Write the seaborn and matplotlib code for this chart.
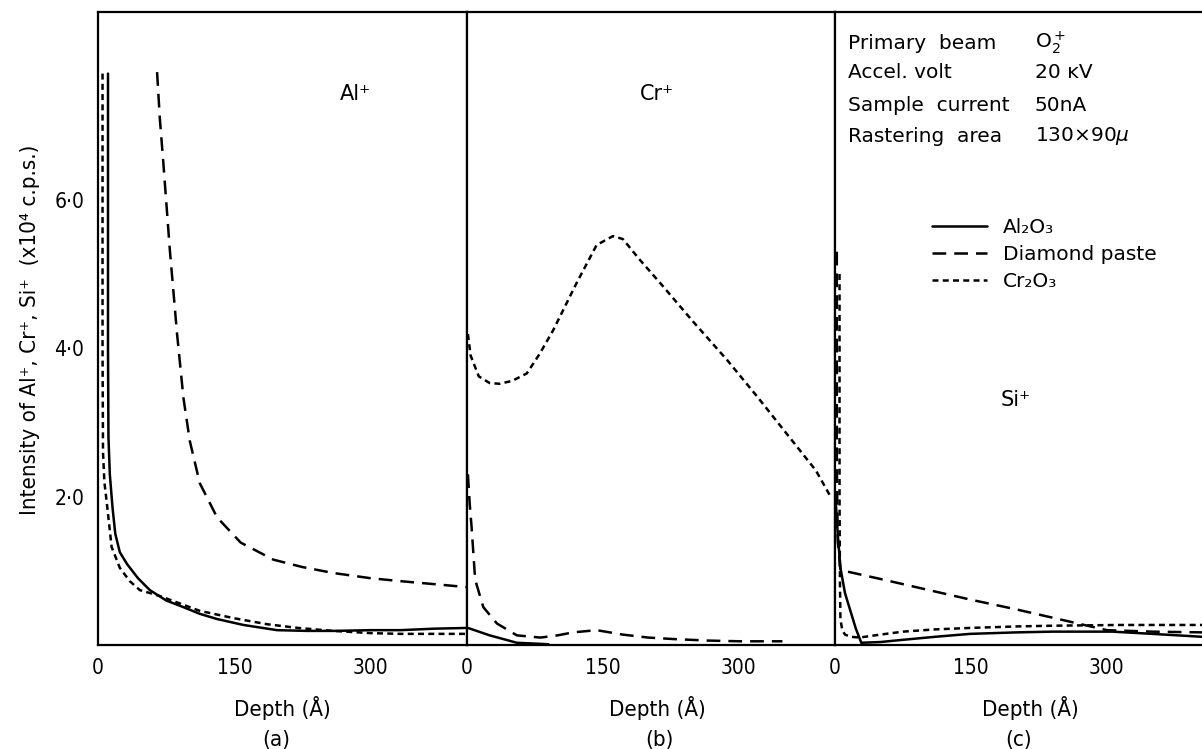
import numpy as np
import pandas as pd
import matplotlib
matplotlib.use("Agg")
import matplotlib.pyplot as plt
import seaborn as sns

# ── data (depth in Å, intensity x10^4 cps) ──

MATERIALS = ["Al₂O₃", "Diamond paste", "Cr₂O₃"]
PANEL_IONS = ["Al⁺", "Cr⁺", "Si⁺"]
PANEL_TAGS = ["(a)", "(b)", "(c)"]
X_TICKS = [0, 150, 300]
Y_TICKS = [2, 4, 6]
Y_TICK_LABELS = ["2·0", "4·0", "6·0"]

# (a) Al+
A_AL2O3_X = [11, 11, 11.5, 13, 16, 19, 24, 32, 44, 57, 75, 94, 112, 131, 160, 197, 230, 260, 300, 333, 370, 406]
A_AL2O3_Y = [7.7, 4.0, 2.8, 2.3, 1.85, 1.5, 1.25, 1.09, 0.9, 0.74, 0.6, 0.51, 0.42, 0.35, 0.27, 0.2, 0.19, 0.19, 0.2, 0.2, 0.22, 0.23]
A_DIAM_X = [65, 68, 72, 79, 87, 94, 101, 112, 131, 157, 193, 225, 259, 300, 333, 370, 406]
A_DIAM_Y = [7.72, 7.1, 6.48, 5.33, 4.19, 3.33, 2.75, 2.18, 1.72, 1.38, 1.15, 1.05, 0.97, 0.9, 0.86, 0.82, 0.78]
A_CR2O3_X = [5, 5, 5.5, 7, 10, 15, 24, 35, 46, 68, 90, 112, 150, 186, 220, 259, 300, 333, 370, 406]
A_CR2O3_Y = [7.7, 4.0, 2.6, 2.2, 1.88, 1.32, 1.04, 0.86, 0.74, 0.66, 0.56, 0.46, 0.36, 0.28, 0.23, 0.19, 0.16, 0.15, 0.15, 0.15]

# (b) Cr+
B_AL2O3_X = [1, 25, 55, 90]
B_AL2O3_Y = [0.23, 0.13, 0.03, 0.01]
B_DIAM_X = [1, 3, 5, 9, 18, 33, 55, 81, 100, 117, 143, 172, 200, 228, 265, 301, 348]
B_DIAM_Y = [2.3, 1.9, 1.6, 0.88, 0.51, 0.29, 0.13, 0.1, 0.13, 0.17, 0.2, 0.14, 0.1, 0.08, 0.06, 0.05, 0.05]
B_CR2O3_X = [1, 4, 13, 25, 36, 50, 66, 80, 95, 121, 143, 161, 172, 190, 213, 250, 287, 320, 359, 385, 402]
B_CR2O3_Y = [4.19, 3.9, 3.62, 3.53, 3.52, 3.56, 3.66, 3.92, 4.24, 4.88, 5.39, 5.51, 5.47, 5.2, 4.88, 4.35, 3.84, 3.35, 2.75, 2.35, 1.98]

# (c) Si+
C_AL2O3_X = [0.5, 3, 6, 11, 17, 23, 29, 50, 75, 110, 149, 200, 240, 306, 350, 406]
C_AL2O3_Y = [2.0, 1.5, 1.04, 0.7, 0.46, 0.22, 0.03, 0.04, 0.07, 0.11, 0.15, 0.17, 0.18, 0.18, 0.15, 0.11]
C_DIAM_X = [2, 2, 3, 6, 50, 100, 150, 200, 250, 300, 350, 406]
C_DIAM_Y = [5.3, 2.5, 1.4, 1.01, 0.89, 0.75, 0.61, 0.48, 0.34, 0.2, 0.18, 0.17]
C_CR2O3_X = [5, 5, 5.5, 6, 8, 11, 18, 27, 50, 75, 110, 149, 200, 240, 314, 406]
C_CR2O3_Y = [5.0, 2.0, 0.8, 0.35, 0.2, 0.14, 0.11, 0.1, 0.14, 0.18, 0.21, 0.23, 0.25, 0.26, 0.27, 0.27]

INFO_KEYS = ["Primary  beam", "Accel. volt", "Sample  current", "Rastering  area"]
INFO_VALS = ["O$_2^+$", "20 ĸV", "50nA", "130×90$\\mu$"]


def panel_frame(series):
    rows = []
    for mat, xs, ys in series:
        for x, y in zip(xs, ys):
            rows.append({"depth": x, "intensity": y, "material": mat})
    return pd.DataFrame(rows)


PANELS = [
    panel_frame([(MATERIALS[0], A_AL2O3_X, A_AL2O3_Y),
                 (MATERIALS[1], A_DIAM_X, A_DIAM_Y),
                 (MATERIALS[2], A_CR2O3_X, A_CR2O3_Y)]),
    panel_frame([(MATERIALS[0], B_AL2O3_X, B_AL2O3_Y),
                 (MATERIALS[1], B_DIAM_X, B_DIAM_Y),
                 (MATERIALS[2], B_CR2O3_X, B_CR2O3_Y)]),
    panel_frame([(MATERIALS[0], C_AL2O3_X, C_AL2O3_Y),
                 (MATERIALS[1], C_DIAM_X, C_DIAM_Y),
                 (MATERIALS[2], C_CR2O3_X, C_CR2O3_Y)]),
]

DASHES = {MATERIALS[0]: "", MATERIALS[1]: (5.5, 3.2), MATERIALS[2]: (2.4, 1.7)}

sns.set_theme(style="white")
plt.rcParams["font.family"] = ["DejaVu Sans"]
plt.rcParams["text.color"] = "black"
plt.rcParams["xtick.color"] = "black"
plt.rcParams["ytick.color"] = "black"
plt.rcParams["axes.edgecolor"] = "black"
plt.rcParams["axes.linewidth"] = 1.6

W, H = 1202, 749
fig = plt.figure(figsize=(W / 100, H / 100), dpi=100)

lefts = [98, 467, 835]
widths = [369, 368, 368]
bottom, top = 645, 12
XMAX = 406
YMAX = 8.53

# ── panels ────────────────────────────────────────────────────────────────────
axes = []
for k, df in enumerate(PANELS):
    ax = fig.add_axes([lefts[k] / W, (H - bottom) / H, widths[k] / W, (bottom - top) / H])
    sns.lineplot(data=df, x="depth", y="intensity", style="material",
                 style_order=MATERIALS, dashes=DASHES, color="black",
                 linewidth=1.8, estimator=None, sort=False, ax=ax,
                 legend=(k == 2))
    ax.set_xlim(0, XMAX)
    ax.set_ylim(0, YMAX)
    ax.set_xticks(X_TICKS)
    ax.set_xticklabels([str(t) for t in X_TICKS], fontsize=15, fontstretch="condensed")
    ax.tick_params(axis="x", direction="in", length=7, width=1.3, pad=9)
    ax.set_xlabel("")
    ax.set_ylabel("")
    if k == 0:
        ax.set_yticks(Y_TICKS)
        ax.set_yticklabels(Y_TICK_LABELS, fontsize=15, fontstretch="condensed")
        ax.tick_params(axis="y", direction="inout", length=8, width=1.3, pad=6)
    else:
        ax.set_yticks([])
    for s in ax.spines.values():
        s.set_color("black")
        s.set_linewidth(1.6)
    ax.text(0.5 + [0.0, 0.016, 0.03][k], -0.0995, "Depth (Å)", transform=ax.transAxes,
            ha="center", va="center", fontsize=16, fontstretch="condensed")
    ax.text(0.5 + [-0.017, 0.022, 0.0][k], -0.150, PANEL_TAGS[k], transform=ax.transAxes,
            ha="center", va="center", fontsize=16, fontstretch="condensed")
    axes.append(ax)

ax_a, ax_b, ax_c = axes
ax_c.spines["right"].set_visible(False)

# ion labels
ax_a.text(0.697, 0.870, PANEL_IONS[0], transform=ax_a.transAxes, ha="center", va="center", fontsize=15)
ax_b.text(0.516, 0.870, PANEL_IONS[1], transform=ax_b.transAxes, ha="center", va="center", fontsize=15)
ax_c.text(0.49, 0.387, PANEL_IONS[2], transform=ax_c.transAxes, ha="center", va="center", fontsize=15)

# measurement conditions
info_y = [0.951, 0.904, 0.853, 0.804]
for key, val, yy in zip(INFO_KEYS, INFO_VALS, info_y):
    ax_c.text(0.035, yy, key, transform=ax_c.transAxes, ha="left", va="center", fontsize=14.5)
    ax_c.text(0.543, yy, val, transform=ax_c.transAxes, ha="left", va="center", fontsize=14.5)

# legend
handles, labels = ax_c.get_legend_handles_labels()
ax_c.legend(handles, labels, loc="upper left", bbox_to_anchor=(0.264, 0.675),
            frameon=False, fontsize=14.5, handlelength=2.7, handletextpad=0.8,
            labelspacing=0.4, borderpad=0, borderaxespad=0)

fig.text(0.025, 0.559, "Intensity of Al⁺, Cr⁺, Si⁺  (x10⁴ c.p.s.)", rotation=90,
         ha="center", va="center", fontsize=16, fontstretch="condensed")

fig.savefig("out.png", dpi=100)
